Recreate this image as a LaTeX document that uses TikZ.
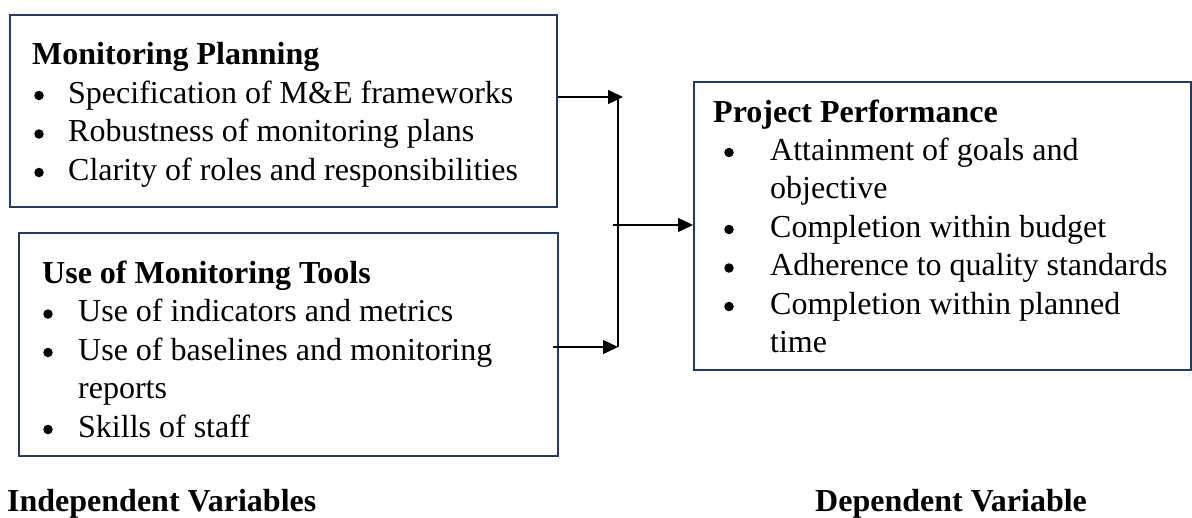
\documentclass[tikz,border=0pt]{standalone}
\usepackage{fontspec}
\setmainfont{Liberation Serif}
\usetikzlibrary{arrows.meta}
\definecolor{boxblue}{RGB}{38,58,96}
\begin{document}
\begin{tikzpicture}[x=1pt,y=-1pt,
  varbox/.style={draw=boxblue,line width=2.4pt,anchor=north west,inner sep=0pt},
  txt/.style={anchor=base west,inner sep=0pt,font=\fontsize{32}{38.5}\selectfont},
  head/.style={anchor=base west,inner sep=0pt,font=\fontsize{32}{38.5}\selectfont\bfseries},
  dot/.style={circle,fill=black,inner sep=0pt,minimum size=9.5pt,yshift=7.5pt},
  link/.style={draw=black,line width=1.4pt,-{Triangle[length=15pt,width=14pt]}},
  ]
\useasboundingbox (0,0) rectangle (1192,517);

% boxes
\node[varbox,minimum width=547pt,minimum height=192pt] (mp) at (9,14) {};
\node[varbox,minimum width=539pt,minimum height=223pt] (ut) at (18,232) {};
\node[varbox,minimum width=497pt,minimum height=288pt] (pp) at (693,81) {};

% Monitoring Planning
\node[head] (mph) at (32,64) {Monitoring Planning};
\node[dot] (mpb1) at (39,103) {};
\node[txt] (mpt1) at (68,103) {Specification of M\&E frameworks};
\node[dot] (mpb2) at (39,141.5) {};
\node[txt] (mpt2) at (68,141.5) {Robustness of monitoring plans};
\node[dot] (mpb3) at (39,180) {};
\node[txt] (mpt3) at (68,180) {Clarity of roles and responsibilities};

% Use of Monitoring Tools
\node[head] (uth) at (42,283) {Use of Monitoring Tools};
\node[dot] (utb1) at (48,321.5) {};
\node[txt] (utt1) at (78,321.5) {Use of indicators and metrics};
\node[dot] (utb2) at (48,360) {};
\node[txt] (utt2) at (78,360) {Use of baselines and monitoring};
\node[txt] (utt2b) at (78,398.5) {reports};
\node[dot] (utb3) at (48,437) {};
\node[txt] (utt3) at (78,437) {Skills of staff};

% Project Performance
\node[head] (pph) at (713,122) {Project Performance};
\node[dot] (ppb1) at (729,160) {};
\node[txt] (ppt1) at (770,160) {Attainment of goals and};
\node[txt] (ppt1b) at (770,198.5) {objective};
\node[dot] (ppb2) at (729,237) {};
\node[txt] (ppt2) at (770,237) {Completion within budget};
\node[dot] (ppb3) at (729,275.5) {};
\node[txt] (ppt3) at (770,275.5) {Adherence to quality standards};
\node[dot] (ppb4) at (729,314) {};
\node[txt] (ppt4) at (770,314) {Completion within planned};
\node[txt] (ppt4b) at (770,352.5) {time};

% captions
\node[head] (iv) at (7,511) {Independent Variables};
\node[head] (dv) at (815,511) {Dependent Variable};

% connectors
\coordinate (tt) at (623,97);
\coordinate (vt) at (618,97);
\coordinate (vb) at (618,347);
\coordinate (mid) at (613,225);

\draw[link] (mp.east |- tt) -- (tt);
\draw[draw=black,line width=1.4pt] (vt) -- (vb);
\draw[link] ([xshift=-6pt]ut.east |- vb) -- (vb);
\draw[link] (mid) -- (pp.west |- mid);
\end{tikzpicture}
\end{document}
